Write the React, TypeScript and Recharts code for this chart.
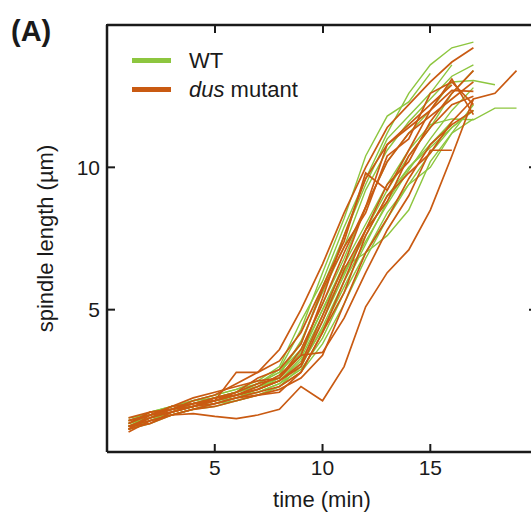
import { Label, Legend, Line, LineChart, ReferenceLine, XAxis, YAxis } from "recharts";

const FONT = '"Liberation Sans", Arial, Helvetica, sans-serif';
const GREEN = "#8dc63f";
const ORANGE = "#c95a12";
const INK = "#1a1a1a";

// time points (min)
const times = [1, 2, 3, 4, 5, 6, 7, 8, 9, 10, 11, 12, 13, 14, 15, 16, 17, 18, 19];

// spindle length (µm) per track, one value per minute starting at t = 1
const wtTracks: number[][] = [
  [0.9, 1.3, 1.5, 1.7, 1.9, 2.1, 2.4, 2.9, 4.3, 6.3, 8.2, 10.4, 11.8, 12.3, 13.3],
  [1.0, 1.2, 1.6, 1.8, 2.0, 2.2, 2.5, 3.0, 4.6, 6.0, 7.9, 9.6, 11.2, 12.6, 13.6, 14.2, 14.4],
  [0.8, 1.1, 1.4, 1.6, 1.8, 2.0, 2.3, 2.7, 3.9, 5.6, 7.2, 9.2, 10.6, 11.6, 12.4, 13.2, 13.6],
  [1.1, 1.3, 1.5, 1.8, 2.0, 2.2, 2.4, 2.8, 3.6, 5.2, 6.8, 8.6, 10.2, 11.2, 12.0, 13.0, 13.05, 12.9],
  [0.9, 1.2, 1.3, 1.5, 1.7, 1.9, 2.2, 2.6, 3.5, 5.0, 6.6, 8.0, 9.4, 10.6, 11.5, 11.7, 11.67, 12.08, 12.08],
  [1.0, 1.4, 1.6, 1.7, 1.9, 2.1, 2.3, 2.5, 3.2, 4.6, 6.2, 7.8, 9.2, 10.4, 11.4, 12.6, 13.4],
  [0.8, 1.1, 1.3, 1.5, 1.6, 1.8, 2.0, 2.3, 3.0, 4.4, 6.0, 7.4, 8.7, 9.9, 11.0, 12.0, 12.8],
  [1.2, 1.3, 1.5, 1.6, 1.8, 2.0, 2.1, 2.4, 2.9, 4.0, 5.6, 7.0, 8.4, 9.4, 10.5, 11.4, 12.0],
  [0.9, 1.2, 1.4, 1.7, 1.8, 2.0, 2.2, 2.5, 3.3, 4.8, 6.3, 7.6, 9.0, 10.0, 10.8, 11.6],
  [1.0, 1.3, 1.5, 1.7, 1.9, 2.1, 2.3, 2.6, 3.4, 5.0, 6.5, 7.0, 7.6, 8.5, 10.2, 11.2, 12.2],
  [0.8, 1.0, 1.3, 1.5, 1.7, 1.8, 2.0, 2.3, 2.8, 3.8, 5.2, 6.8, 8.2, 9.4, 10.0, 11.2, 11.7],
  [1.1, 1.4, 1.6, 1.8, 1.9, 2.1, 2.4, 2.8, 3.8, 5.8, 7.6, 9.4, 11.0, 11.8, 12.6, 13.6],
  [0.9, 1.1, 1.4, 1.6, 1.8, 1.9, 2.1, 2.4, 3.1, 4.3, 5.8, 7.3, 8.8, 10.0, 10.7, 11.4, 12.0],
];

const dusTracks: number[][] = [
  [0.9, 1.1, 1.3, 1.35, 1.25, 1.17, 1.3, 1.5, 2.3, 1.8, 3.0, 5.1, 6.3, 7.1, 8.5, 10.4, 12.4, 12.6, 13.4],
  [1.0, 1.4, 1.5, 1.8, 2.0, 2.4, 2.8, 3.6, 5.0, 6.6, 8.4, 10.0, 11.4, 12.2, 13.0, 13.7, 14.2],
  [0.8, 1.2, 1.4, 1.6, 1.8, 2.8, 2.8, 3.2, 4.2, 5.8, 7.4, 9.8, 9.2, 10.6, 12.0, 13.1, 11.85],
  [1.1, 1.3, 1.6, 1.7, 1.9, 2.1, 2.4, 2.6, 3.4, 5.4, 7.6, 9.6, 10.8, 11.4, 12.0, 12.7, 12.67],
  [0.9, 1.0, 1.4, 1.6, 1.9, 2.0, 2.2, 2.5, 3.1, 4.8, 6.6, 8.6, 10.2, 11.2, 11.8, 12.4, 13.0],
  [0.7, 1.1, 1.3, 1.5, 1.7, 1.9, 2.1, 2.3, 2.8, 4.2, 6.0, 7.8, 8.8, 10.4, 11.4, 12.2, 12.5],
  [1.0, 1.3, 1.5, 1.7, 1.8, 2.0, 2.3, 2.7, 3.4, 3.5, 4.7, 6.3, 7.8, 9.0, 10.6, 10.6],
  [0.8, 1.0, 1.3, 1.5, 1.6, 1.8, 2.0, 2.2, 2.6, 3.4, 5.2, 7.0, 8.2, 9.6, 10.8, 11.5, 12.0],
  [1.2, 1.4, 1.5, 1.7, 1.8, 2.0, 2.2, 2.5, 3.0, 4.6, 6.4, 7.8, 9.4, 10.2, 11.6, 12.6, 13.4],
  [0.9, 1.2, 1.5, 1.6, 1.8, 2.1, 2.6, 2.9, 3.8, 5.7, 7.2, 8.4, 10.4, 11.0, 12.6, 13.0, 12.2],
  [0.8, 1.3, 1.4, 1.6, 1.7, 1.9, 2.0, 2.1, 2.8, 4.2, 5.6, 7.6, 9.0, 9.8, 10.5, 11.6, 12.4],
  [1.1, 1.3, 1.6, 1.9, 2.1, 2.3, 2.5, 2.6, 3.6, 5.2, 7.0, 8.6, 10.8, 11.5, 12.2, 12.9],
];

const xTicks = [5, 10, 15];
const yTicks = [5, 10];
const X_MAX = 19.95;
const Y_MAX = 15;

// chart box
const CHART_W = 540;
const CHART_H = 513;
const TOP = 25;
const LEFT_AXIS_W = 107;
const RIGHT_AXIS_W = 3;
const PLOT_W = CHART_W - LEFT_AXIS_W - RIGHT_AXIS_W;

const rows = times.map((t, i) => {
  const row: Record<string, number | null> = { t };
  wtTracks.forEach((tr, k) => {
    row[`wt${k}`] = i < tr.length ? tr[i] : null;
  });
  dusTracks.forEach((tr, k) => {
    row[`dus${k}`] = i < tr.length ? tr[i] : null;
  });
  return row;
});

const TICK_LEN = 8;

function BottomTick({ x, y, payload }: any) {
  return (
    <g>
      <line x1={x} x2={x} y1={y} y2={y - TICK_LEN} stroke={INK} strokeWidth={2} />
      <text x={x} y={y + 23} textAnchor="middle" fontSize={21} fontFamily={FONT} fill={INK}>
        {payload.value}
      </text>
    </g>
  );
}

function LeftTick({ x, y, payload }: any) {
  return (
    <g>
      <line x1={x} x2={x + TICK_LEN} y1={y} y2={y} stroke={INK} strokeWidth={2} />
      <text x={x - 7} y={y} dy="0.36em" textAnchor="end" fontSize={21} fontFamily={FONT} fill={INK}>
        {payload.value}
      </text>
    </g>
  );
}

function RightTick({ x, y }: any) {
  return <line x1={x} x2={x - TICK_LEN} y1={y} y2={y} stroke={INK} strokeWidth={2} />;
}

function XTitle({ viewBox }: any) {
  const vb = viewBox || { x: 107, y: 452, width: 430, height: 61 };
  return (
    <text x={vb.x + vb.width / 2} y={vb.y + 55} textAnchor="middle" fontSize={22} fontFamily={FONT} fill={INK}>
      time (min)
    </text>
  );
}

function YTitle({ viewBox }: any) {
  const vb = viewBox || { x: 0, y: 25, width: 107, height: 427 };
  const cx = vb.x + 45;
  const cy = vb.y + vb.height / 2;
  return (
    <text
      x={cx}
      y={cy}
      dy="0.35em"
      textAnchor="middle"
      transform={`rotate(-90, ${cx}, ${cy})`}
      fontSize={22}
      fontFamily={FONT}
      fill={INK}
    >
      spindle length (µm)
    </text>
  );
}

function LegendBox() {
  const swatch = (c: string) => (
    <span style={{ display: "inline-block", width: 39, height: 5, background: c, marginRight: 18 }} />
  );
  return (
    <div style={{ fontFamily: FONT, fontSize: 22, color: INK, lineHeight: "29px" }}>
      <div style={{ display: "flex", alignItems: "center" }}>
        {swatch(GREEN)}WT
      </div>
      <div style={{ display: "flex", alignItems: "center" }}>
        {swatch(ORANGE)}
        <i>dus</i>&nbsp;mutant
      </div>
    </div>
  );
}

// top edge of the boxed axes, with inward ticks at the x tick values
function TopFrame() {
  return (
    <div style={{ position: "absolute", left: 0, top: 0, width: CHART_W, height: TOP + TICK_LEN + 4, zIndex: 5, pointerEvents: "none" }}>
      <div
        style={{
          position: "absolute",
          left: LEFT_AXIS_W - 1,
          top: TOP - 1,
          width: PLOT_W + 1,
          height: 0,
          borderTop: `2.5px solid ${INK}`,
        }}
      />
      {xTicks.map((v) => (
        <div
          key={v}
          style={{
            position: "absolute",
            left: LEFT_AXIS_W + (v / X_MAX) * PLOT_W - 1,
            top: TOP,
            width: 2,
            height: TICK_LEN,
            background: INK,
          }}
        />
      ))}
    </div>
  );
}

export default function App() {
  return (
    <div style={{ position: "absolute", left: 0, top: 0, width: 531, height: 513, overflow: "hidden", background: "#fff" }}>
      <LineChart width={CHART_W} height={CHART_H} data={rows} margin={{ top: TOP, right: 0, bottom: 0, left: 0 }}>
        <XAxis
          dataKey="t"
          type="number"
          domain={[0, X_MAX]}
          allowDataOverflow
          ticks={xTicks}
          height={CHART_H - TOP - 427}
          tickSize={0}
          tickMargin={0}
          tickLine={false}
          tick={<BottomTick />}
          axisLine={{ stroke: INK, strokeWidth: 2.5 }}
        >
          <Label content={<XTitle />} />
        </XAxis>
        <YAxis
          type="number"
          domain={[0, Y_MAX]}
          allowDataOverflow
          ticks={yTicks}
          width={LEFT_AXIS_W}
          tickSize={0}
          tickMargin={0}
          tickLine={false}
          tick={<LeftTick />}
          axisLine={{ stroke: INK, strokeWidth: 2.5 }}
        >
          <Label content={<YTitle />} />
        </YAxis>
        <YAxis
          yAxisId="right"
          orientation="right"
          type="number"
          domain={[0, Y_MAX]}
          allowDataOverflow
          ticks={yTicks}
          width={RIGHT_AXIS_W}
          tickSize={0}
          tickMargin={0}
          tickLine={false}
          tick={<RightTick />}
          axisLine={{ stroke: INK, strokeWidth: 2.5 }}
        />
        <ReferenceLine y={Y_MAX} stroke={INK} strokeWidth={2.5} ifOverflow="visible" />
        <Legend
          layout="horizontal"
          align="center"
          verticalAlign="middle"
          content={<LegendBox />}
          wrapperStyle={{ left: 132, top: 46, width: 220, height: 60 }}
        />
        {wtTracks.map((_, k) => (
          <Line
            key={`wt${k}`}
            dataKey={`wt${k}`}
            type="linear"
            stroke={GREEN}
            strokeWidth={1.4}
            dot={false}
            activeDot={false}
            legendType="none"
            isAnimationActive={false}
          />
        ))}
        {dusTracks.map((_, k) => (
          <Line
            key={`dus${k}`}
            dataKey={`dus${k}`}
            type="linear"
            stroke={ORANGE}
            strokeWidth={1.7}
            dot={false}
            activeDot={false}
            legendType="none"
            isAnimationActive={false}
          />
        ))}
      </LineChart>
      <TopFrame />
      <svg width={80} height={60} style={{ position: "absolute", left: 0, top: 0 }}>
        <text x={11} y={41} fontSize={29} fontWeight="bold" fontFamily={FONT} fill={INK}>
          (A)
        </text>
      </svg>
    </div>
  );
}
